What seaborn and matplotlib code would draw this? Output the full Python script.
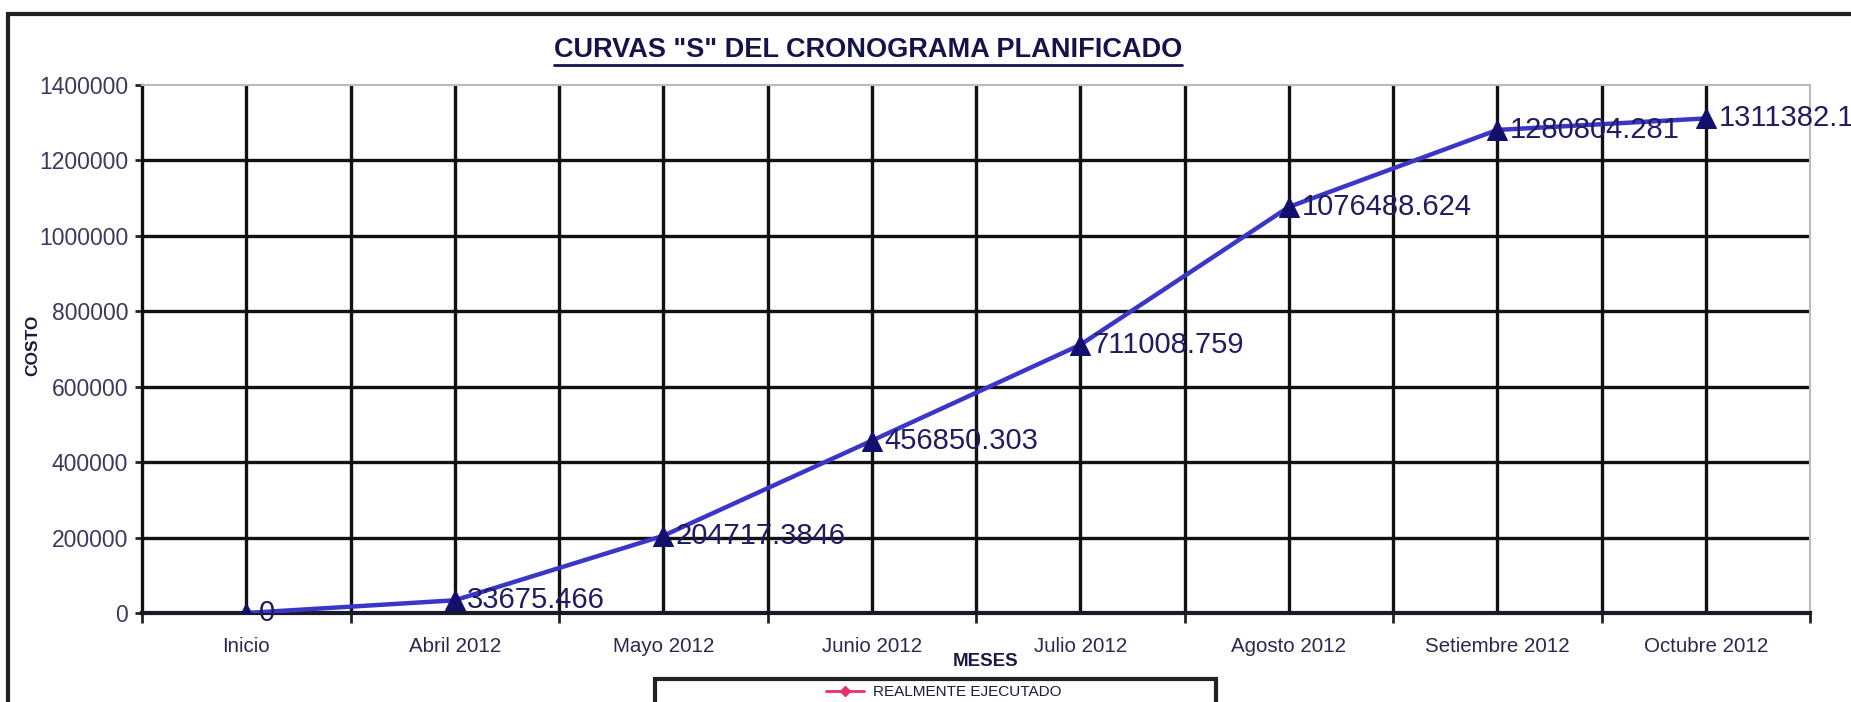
import matplotlib
matplotlib.use("Agg")
import matplotlib.pyplot as plt
import seaborn as sns
import pandas as pd
import numpy as np
from matplotlib.lines import Line2D
from matplotlib.patches import Rectangle

# ---- data ----
months = ["Inicio", "Abril 2012", "Mayo 2012", "Junio 2012", "Julio 2012",
          "Agosto 2012", "Setiembre 2012", "Octubre 2012"]
costs = [0, 33675.466, 204717.3846, 456850.303, 711008.759,
         1076488.624, 1280804.281, 1311382.18]
labels = ["0", "33675.466", "204717.3846", "456850.303", "711008.759",
          "1076488.624", "1280804.281", "1311382.18"]
yticks = [0, 200000, 400000, 600000, 800000, 1000000, 1200000, 1400000]
title = 'CURVAS "S" DEL CRONOGRAMA PLANIFICADO'
legend_label = "REALMENTE EJECUTADO"

sns.set_theme(style="white")
plt.rcParams['font.family'] = ['Liberation Sans', 'DejaVu Sans']

W, H = 1851, 702
fig = plt.figure(figsize=(W/100, H/100), dpi=100)
ax = fig.add_axes([142/W, 1-613/H, (1810-142)/W, (613-85)/H])

df = pd.DataFrame({"pos": np.arange(len(months)), "cost": costs})
sns.lineplot(data=df, x="pos", y="cost", ax=ax, color="#3a36c8", linewidth=3.2,
             marker="^", markersize=14, markerfacecolor="#12106a",
             markeredgecolor="#12106a", zorder=5)

ax.set_xlim(-0.5, len(months) - 0.5)
ax.set_ylim(0, 1400000)

# grid lines
for y in yticks[1:-1]:
    ax.axhline(y, color="#111111", linewidth=2.4, zorder=1)
ax.axhline(1400000, color="#bbbbbb", linewidth=1.5, zorder=1)
for i in range(len(months)):
    ax.axvline(i, color="#111111", linewidth=2.4, zorder=1)
for i in range(1, len(months)):
    ax.axvline(i - 0.5, color="#111111", linewidth=2.4, zorder=1)

ax.set_xticks(np.arange(len(months)))
ax.set_xticklabels(months, fontsize=14.8, color="#2a2850")
ax.set_xticks(np.arange(-0.5, len(months)), minor=True)
ax.tick_params(axis="x", which="major", length=0, pad=17)
ax.tick_params(axis="x", which="minor", length=7, width=2, color="#222222",
               direction="out", bottom=True)
ax.set_yticks(yticks)
ax.set_yticklabels([str(v) for v in yticks], fontsize=16.5, color="#3a3a5c")
ax.tick_params(axis="y", length=5, width=2, color="#222222", direction="out",
               left=True, pad=5)

for side in ["top", "right"]:
    ax.spines[side].set_color("#bbbbbb")
    ax.spines[side].set_linewidth(1.5)
ax.spines["left"].set_color("#111111")
ax.spines["left"].set_linewidth(2.4)
ax.spines["bottom"].set_color("#1a1a2a")
ax.spines["bottom"].set_linewidth(3)

ax.set_xlabel("")
ax.set_ylabel("")
fig.text(986/W, 1-661/H, "MESES", fontsize=13.5, fontweight="bold",
         color="#1a1a40", ha="center", va="center")
fig.text(33/W, 1-345/H, "COSTO", fontsize=12.5, fontweight="bold",
         color="#1a1a40", ha="center", va="center", rotation=90)

for i, (v, t) in enumerate(zip(costs, labels)):
    ax.annotate(t, (i, v), xytext=(9, 0), textcoords="offset points",
                fontsize=21, color="#201c60", va="center", ha="left",
                zorder=6, annotation_clip=False)

# title (underlined)
tt = fig.text(868/W, 1-50/H, title, fontsize=19.5, fontweight="bold",
              color="#14144a", ha="center", va="center")
fig.canvas.draw()
bb = tt.get_window_extent()
fig.add_artist(Line2D([bb.x0/W, bb.x1/W], [(bb.y0-2)/H, (bb.y0-2)/H],
                      color="#14144a", linewidth=2))

# outer frame
fig.add_artist(Rectangle((8/W, -0.2), 1.2, 1.2 - 14/H,
                         transform=fig.transFigure, fill=False,
                         edgecolor="#222222", linewidth=3))

# legend box
fig.add_artist(Rectangle((655/W, -0.1), (1216-655)/W, 0.1 + 1 - 679/H,
                         transform=fig.transFigure, fill=False,
                         edgecolor="#222222", linewidth=3))
handle = Line2D([], [], color="#e8306a", marker="D", markersize=5, linewidth=2)
fig.legend([handle], [legend_label], loc="center", frameon=False,
           bbox_to_anchor=(944/W, 1-692/H), fontsize=11,
           labelcolor="#1a1a40", handlelength=2.5, handletextpad=0.6)

fig.savefig("out.png", dpi=100)
